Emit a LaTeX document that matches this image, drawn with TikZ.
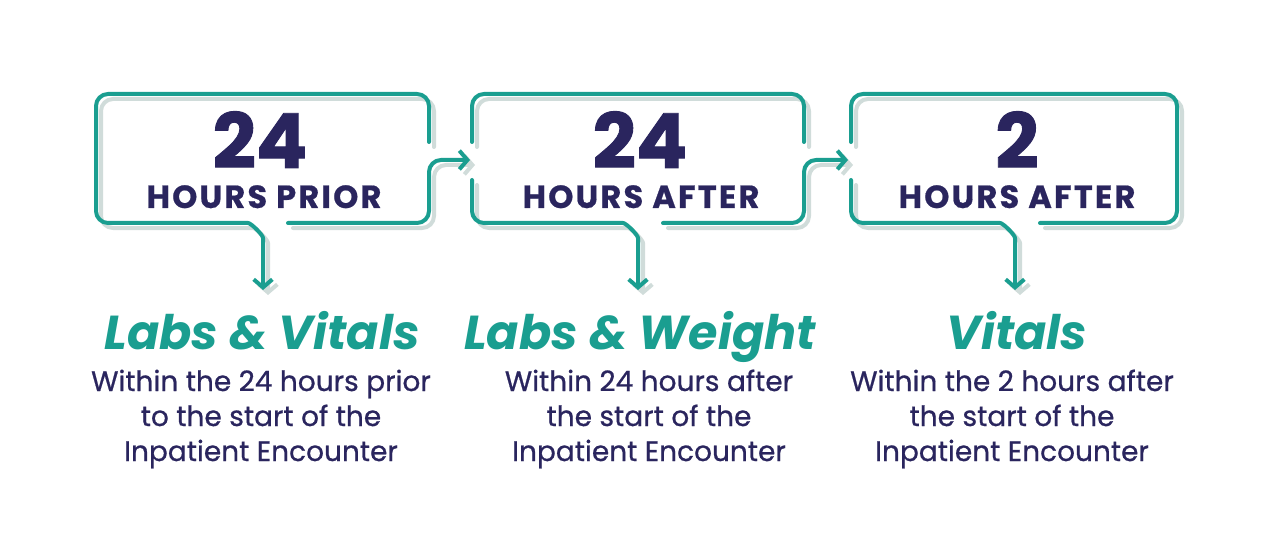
\documentclass[tikz,border=0pt]{standalone}
\usepackage{fontspec}
\usetikzlibrary{arrows.meta}
\newfontfamily\pop{Poppins}
\newfontfamily\popnum{Poppins}[FakeBold=1.2]
\newfontfamily\pophrs{Poppins}[LetterSpace=7,FakeBold=0.6]
\newfontfamily\popmed{Poppins}[FakeBold=0.7]
\definecolor{tealc}{RGB}{26,158,144}
\definecolor{navy}{RGB}{42,37,94}
\definecolor{shade}{RGB}{208,220,218}
\begin{document}
\begin{tikzpicture}[x=0.75pt,y=-0.75pt,
  ln/.style={draw=tealc,line width=3pt,line cap=round,line join=round,rounded corners=9pt},
  sh/.style={draw=shade,line width=3pt,line cap=round,line join=round,rounded corners=9pt},
  tip/.style={-{Straight Barb[length=6pt,width=14pt]}},
  num/.style={font=\popnum\bfseries\fontsize{57}{57}\selectfont,text=navy,anchor=base,inner sep=0pt},
  hrs/.style={font=\pophrs\bfseries\fontsize{24}{24}\selectfont,text=navy,anchor=base,inner sep=0pt},
  ttl/.style={font=\pop\bfseries\itshape\fontsize{35.7}{35.7}\selectfont,text=tealc,anchor=base,inner sep=0pt},
  body/.style={font=\popmed\fontsize{21}{26.25}\selectfont,text=navy,anchor=base,inner sep=0pt,align=center}
]
\useasboundingbox[fill=white] (0,0) rectangle (1276,538);
\foreach \d/\s in {5/sh,0/ln}{
\begin{scope}[shift={(\d,\d)}]
 % box 1
 \draw[\s,tip] (429,142) -- (429,94) -- (96,94) -- (96,223) -- (236,223) .. controls (251,223) and (263,235) .. (263,250) -- (263,290);
 \draw[\s,tip] (288,223) -- (429,223) -- (429,160) -- (470,160);
 % box 2
 \draw[\s] (472,142) -- (472,94) -- (804,94) -- (804,142);
 \draw[\s,tip] (472,180) -- (472,223) -- (611,223) .. controls (626,223) and (638,235) .. (638,250) -- (638,290);
 \draw[\s,tip] (663,223) -- (804,223) -- (804,160) -- (848,160);
 % box 3
 \draw[\s] (851,142) -- (851,94) -- (1177,94) -- (1177,223) -- (1040,223);
 \draw[\s,tip] (851,180) -- (851,223) -- (988,223) .. controls (1003,223) and (1015,235) .. (1015,250) -- (1015,290);
\end{scope}}
\node[num] (n1) at (260,168) {24};
\node[hrs] (h1) at (264,208) {HOURS PRIOR};
\node[num] (n2) at (640,168) {24};
\node[hrs] (h2) at (641,208) {HOURS AFTER};
\node[num] (n3) at (1017,168) {2};
\node[hrs] (h3) at (1017,208) {HOURS AFTER};
\node[ttl] (t1) at (262,349) {Labs \& Vitals};
\node[ttl] (t2) at (640,349) {Labs \& Weight};
\node[ttl] (t3) at (1017,349) {Vitals};
\node[body] (d1) at (261,461) {Within the 24 hours prior\\to the start of the\\Inpatient Encounter};
\node[body] (d2) at (649,461) {Within 24 hours after\\the start of the\\Inpatient Encounter};
\node[body] (d3) at (1012,461) {Within the 2 hours after\\the start of the\\Inpatient Encounter};
\end{tikzpicture}
\end{document}
